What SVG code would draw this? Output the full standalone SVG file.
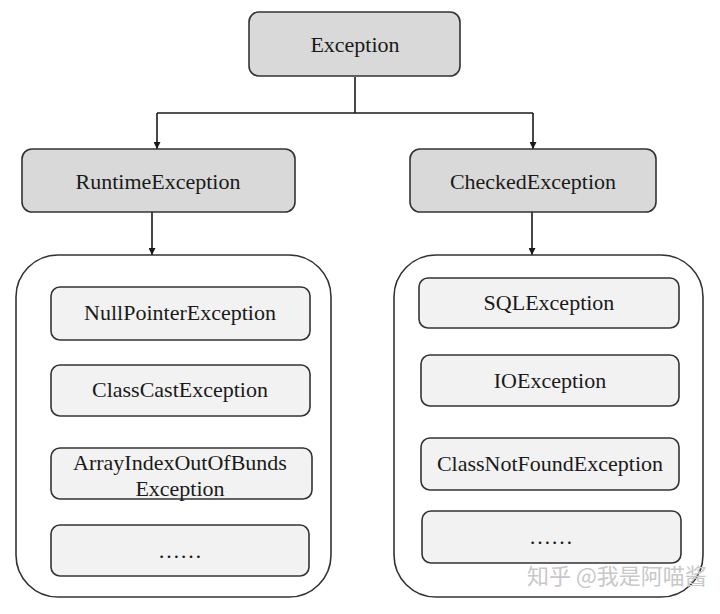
<svg xmlns="http://www.w3.org/2000/svg" width="720" height="614" viewBox="0 0 720 614">
<defs>
<style>
.t{font-family:'Liberation Serif','Times New Roman','DejaVu Serif',serif;font-size:22px;fill:#1a1a1a;text-anchor:middle}
.hdr{fill:#d9d9d9;stroke:#333;stroke-width:1.6}
.item{fill:#f2f2f2;stroke:#333;stroke-width:1.6}
.cont{fill:#fff;stroke:#333;stroke-width:1.6}
.ln{fill:none;stroke:#1a1a1a;stroke-width:1.6}
.wm{font-family:'Noto Sans CJK SC','Noto Sans',sans-serif;font-size:22px;fill:#c8c8c8}
</style>
<marker id="arr" viewBox="0 0 10 10" refX="10" refY="5" markerWidth="7" markerHeight="7" markerUnits="userSpaceOnUse" orient="auto">
<path d="M0,0 L10,5 L0,10 Z" fill="#1a1a1a"/>
</marker>
</defs>
<g id="connectors">
<path class="ln" d="M355,77 V113"/>
<path class="ln" d="M157,113 H533"/>
<path class="ln" d="M157,113 V149" marker-end="url(#arr)"/>
<path class="ln" d="M533,113 V149" marker-end="url(#arr)"/>
<path class="ln" d="M152,212 V255" marker-end="url(#arr)"/>
<path class="ln" d="M532,212 V255" marker-end="url(#arr)"/>
</g>
<g id="exception"><rect class="hdr" x="249" y="12" width="211" height="64" rx="10"/><text class="t" x="355" y="52">Exception</text></g>
<g id="runtime"><rect class="hdr" x="22" y="149" width="273" height="63" rx="10"/><text class="t" x="158" y="189">RuntimeException</text></g>
<g id="checked"><rect class="hdr" x="410" y="149" width="246" height="63" rx="10"/><text class="t" x="533" y="189">CheckedException</text></g>
<g id="runtime-group"><rect class="cont" x="16" y="255" width="315" height="342" rx="42"/></g>
<g id="checked-group"><rect class="cont" x="394" y="255" width="309" height="342" rx="42"/></g>
<g id="npe"><rect class="item" x="51" y="287" width="259" height="53" rx="9"/><text class="t" x="180" y="320">NullPointerException</text></g>
<g id="cce"><rect class="item" x="51" y="365" width="259" height="51" rx="9"/><text class="t" x="180" y="397">ClassCastException</text></g>
<g id="aioobe"><rect class="item" x="51" y="448" width="261" height="51" rx="9"/><text class="t" x="180" y="470">ArrayIndexOutOfBunds</text><text class="t" x="180" y="496">Exception</text></g>
<g id="more-runtime"><rect class="item" x="51" y="525" width="258" height="51" rx="9"/><text class="t" x="180" y="558">……</text></g>
<g id="sql"><rect class="item" x="419" y="278" width="260" height="50" rx="9"/><text class="t" x="549" y="310">SQLException</text></g>
<g id="io"><rect class="item" x="421" y="355" width="258" height="51" rx="9"/><text class="t" x="550" y="388">IOException</text></g>
<g id="cnfe"><rect class="item" x="421" y="438" width="258" height="52" rx="9"/><text class="t" x="550" y="471">ClassNotFoundException</text></g>
<g id="more-checked"><rect class="item" x="422" y="511" width="259" height="52" rx="9"/><text class="t" x="551" y="544">……</text></g>
<text class="wm" x="527" y="584">知乎 @我是阿喵酱</text>
</svg>
